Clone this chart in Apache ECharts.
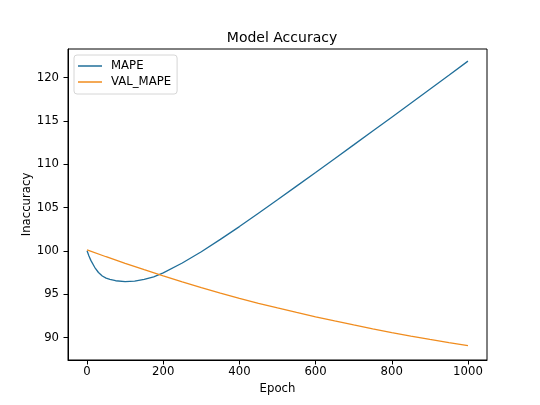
<!DOCTYPE html>
<html>
<head>
<meta charset="utf-8">
<title>Model Accuracy</title>
<script src="https://cdn.jsdelivr.net/npm/echarts@6/dist/echarts.min.js"></script>
<style>
    html, body { margin: 0; padding: 0; background: #fff; }
    #chart { width: 540px; height: 405px; }
</style>
</head>
<body>
<div id="chart"></div>
<script>
// 训练轮次 (x)
const epochs = [0, 5, 10, 20, 30, 40, 50, 60, 75, 100, 125, 150, 175, 200, 250, 300, 350, 400, 450, 500,
                550, 600, 650, 700, 750, 800, 850, 900, 950, 1000];
// MAPE 曲线
const mape = [100, 99.4, 98.9, 98.1, 97.5, 97.1, 96.85, 96.7, 96.55, 96.45, 96.5, 96.7, 97.0, 97.45, 98.6, 99.9,
              101.32, 102.8, 104.35, 105.9, 107.47, 109.05, 110.64, 112.23, 113.83, 115.43, 117.04, 118.65, 120.27, 121.9];
// VAL_MAPE 曲线
const valEpochs = [0, 50, 100, 150, 200, 250, 300, 350, 400, 450, 500, 550, 600, 650, 700, 750, 800, 850, 900, 950, 1000];
const valMape = [100.1, 99.32, 98.56, 97.82, 97.1, 96.41, 95.75, 95.12, 94.52, 93.95, 93.41, 92.89, 92.39, 91.91,
                 91.45, 91.0, 90.57, 90.16, 89.77, 89.41, 89.07];
// 刻度
const xTicks = [0, 200, 400, 600, 800, 1000];
const yTicks = [90, 95, 100, 105, 110, 115, 120];

const font = 'DejaVu Sans';
const colors = ['#216f9a', '#f08c1e'];
let chart = echarts.init(document.getElementById('chart'));

let option = {
    backgroundColor: '#fff',
    animation: false,
    title: {
        text: 'Model Accuracy',
        left: 277,
        textAlign: 'center',
        top: 26,
        textStyle: { fontFamily: font, fontSize: 14, fontWeight: 'normal', color: '#000' }
    },
    legend: {
        orient: 'vertical',
        left: 74,
        top: 55,
        padding: [5, 6, 6, 4],
        icon: 'rect',
        itemWidth: 24,
        itemHeight: 1.5,
        itemGap: 4,
        backgroundColor: '#fff',
        borderColor: '#d6d6d6',
        borderWidth: 1,
        borderRadius: 3,
        textStyle: { fontFamily: font, fontSize: 11.7, color: '#000', padding: [0, 0, 0, 4] },
        data: ['MAPE', 'VAL_MAPE']
    },
    grid: {
        left: 68,
        right: 53,
        top: 49,
        bottom: 45,
        show: true,
        borderColor: '#000',
        borderWidth: 1
    },
    xAxis: {
        type: 'value',
        min: -50,
        max: 1050,
        name: 'Epoch',
        nameLocation: 'middle',
        nameGap: 23,
        nameMoveOverlap: false,
        nameTextStyle: { fontFamily: font, fontSize: 11.7, color: '#000' },
        splitLine: { show: false },
        axisLine: { show: true, onZero: false, lineStyle: { color: '#000', width: 1 } },
        axisTick: { show: true, length: 4.5, customValues: xTicks, lineStyle: { color: '#000' } },
        axisLabel: {
            customValues: xTicks, margin: 6, fontFamily: font, fontSize: 11.7, color: '#000',
            formatter: v => String(v)
        }
    },
    yAxis: {
        type: 'value',
        min: 87.4,
        max: 123.3,
        name: 'Inaccuracy',
        nameLocation: 'middle',
        nameGap: 35,
        nameMoveOverlap: false,
        nameTextStyle: { fontFamily: font, fontSize: 11.7, color: '#000' },
        splitLine: { show: false },
        axisLine: { show: true, onZero: false, lineStyle: { color: '#000', width: 1 } },
        axisTick: { show: true, length: 4.5, customValues: yTicks, lineStyle: { color: '#000' } },
        axisLabel: {
            customValues: yTicks, margin: 9, fontFamily: font, fontSize: 11.7, color: '#000',
            formatter: v => String(v)
        }
    },
    series: [
        {
            name: 'MAPE',
            type: 'line',
            symbol: 'none',
            color: colors[0],
            lineStyle: { width: 1.3 },
            data: epochs.map((e, i) => [e, mape[i]])
        },
        {
            name: 'VAL_MAPE',
            type: 'line',
            symbol: 'none',
            color: colors[1],
            lineStyle: { width: 1.3 },
            data: valEpochs.map((e, i) => [e, valMape[i]])
        }
    ]
};
chart.setOption(option);
</script>
</body>
</html>
